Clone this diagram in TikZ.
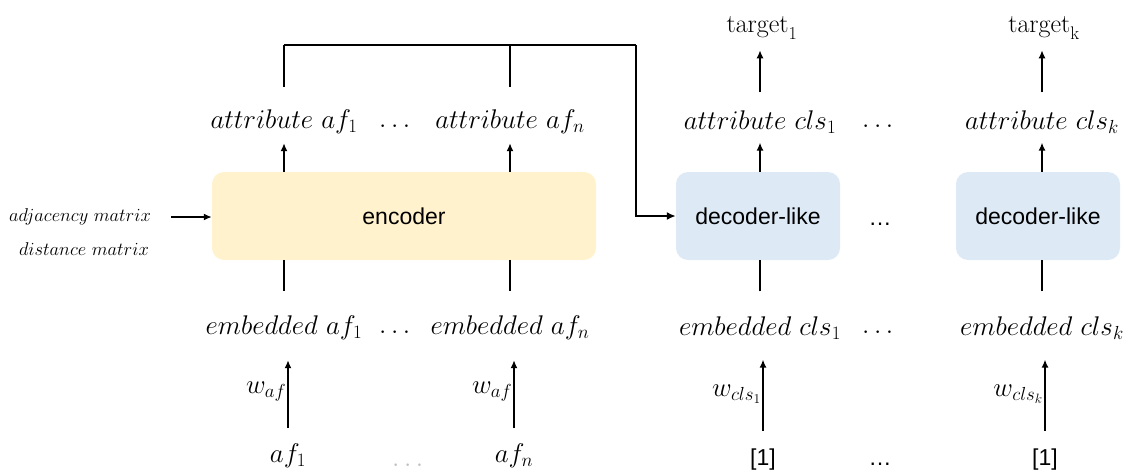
\RequirePackage{fix-cm}
\documentclass[tikz,border=0pt]{standalone}
\usepackage{amsmath}
\usepackage{fontspec}
\setsansfont{Liberation Sans}
\usetikzlibrary{positioning,calc,arrows.meta}
\definecolor{encyellow}{RGB}{255,242,204}
\definecolor{decblue}{RGB}{221,234,246}
\begin{document}
\begin{tikzpicture}[x=1pt,y=-1pt,
    every node/.style={font=\fontsize{27}{31}\selectfont,inner sep=2pt},
    blockbox/.style={rounded corners=12pt,minimum height=88pt,font=\sffamily\fontsize{23}{27}\selectfont},
    sidelabel/.style={font=\fontsize{18.5}{22}\selectfont},
    wlabel/.style={left,font=\fontsize{27}{31}\selectfont,inner sep=1pt},
    arr/.style={line width=1.5pt,-{Latex[length=8pt,width=7pt]}},
    plain/.style={line width=1.5pt},
    bus/.style={line width=2.6pt}]
  \useasboundingbox (0,0) rectangle (1134,472);

  % blocks
  \node[blockbox,fill=encyellow,minimum width=384pt] (enc) at (404,216) {encoder};
  \node[blockbox,fill=decblue,minimum width=164pt] (dec1) at (758,216) {decoder-like};
  \node[blockbox,fill=decblue,minimum width=164pt] (deck) at (1038,216) {decoder-like};
  \node[font=\sffamily\fontsize{23}{27}\selectfont] (decdots) at (880,224) {\dots};

  % inputs of the encoder
  \node[sidelabel] (adj) at (80,217) {$adjacency\ matrix$};
  \node[sidelabel] (dist) at (84,249) {$distance\ matrix$};
  \draw[arr,shorten <=18pt] (adj.east) -- (adj.east -| enc.west);

  % encoder columns
  \foreach \i/\x in {1/284,n/510}{%
    \node (att\i) at (\x,122) {$attribute\ af_{\i}$};
    \node (emb\i) at (\x,328) {$embedded\ af_{\i}$};
    \node[anchor=base] (in\i) at (\x+4,462) {$af_{\i}$};
    \draw[arr,shorten >=7pt] (enc.north -| att\i) -- (att\i.south);
    \draw[plain,shorten <=23pt] (emb\i.north) -- (emb\i.north |- enc.south);
    \draw[arr,shorten <=13pt,shorten >=18pt] (in\i.north) -- node[wlabel] {$w_{af}$} (in\i.north |- emb\i.south);
    \draw[plain,shorten <=21pt] (att\i.north) -- (att\i.north |- 0,45);
  }
  \node (attdots) at (397,126) {$\dots$};
  \node (embdots) at (397,332) {$\dots$};
  \node[text=gray!50,anchor=base,inner sep=0pt] (indots) at (410,466) {$\dots$};

  % bus from the encoder to the first decoder
  \coordinate (busR) at (636,45);
  \draw[bus] (att1.north |- busR) -- (busR);
  \draw[bus,-{Latex[length=9pt,width=8pt]}] (busR) |- (dec1.west);

  % decoder columns
  \foreach \i/\x/\t in {1/760/1,k/1042/\mathrm{k}}{%
    \node[font=\fontsize{26}{30}\selectfont] (tgt\i) at (\x+2,28) {$\mathrm{target}_{\t}$};
    \node (cls\i) at (\x,122) {$attribute\ cls_{\i}$};
    \node (ecl\i) at (\x,328) {$embedded\ cls_{\i}$};
    \node[font=\sffamily\fontsize{23}{27}\selectfont] (one\i) at (\x+3,460) {[1]};
    \draw[arr,shorten >=7pt] (dec\i.north -| cls\i) -- (cls\i.south);
    \draw[arr,shorten <=16pt,shorten >=9pt] (cls\i.north) -- (cls\i.north |- tgt\i.south);
    \draw[plain,shorten <=23pt] (ecl\i.north) -- (ecl\i.north |- dec\i.south);
    \draw[arr,shorten <=16pt,shorten >=18pt] (one\i.north) -- node[wlabel] {$w_{cls_{\i}}$} (one\i.north |- ecl\i.south);
  }
  \node (clsdots) at (880,126) {$\dots$};
  \node (ecldots) at (880,332) {$\dots$};
  \node[font=\sffamily\fontsize{23}{27}\selectfont] (onedots) at (880,464) {\dots};
\end{tikzpicture}
\end{document}
